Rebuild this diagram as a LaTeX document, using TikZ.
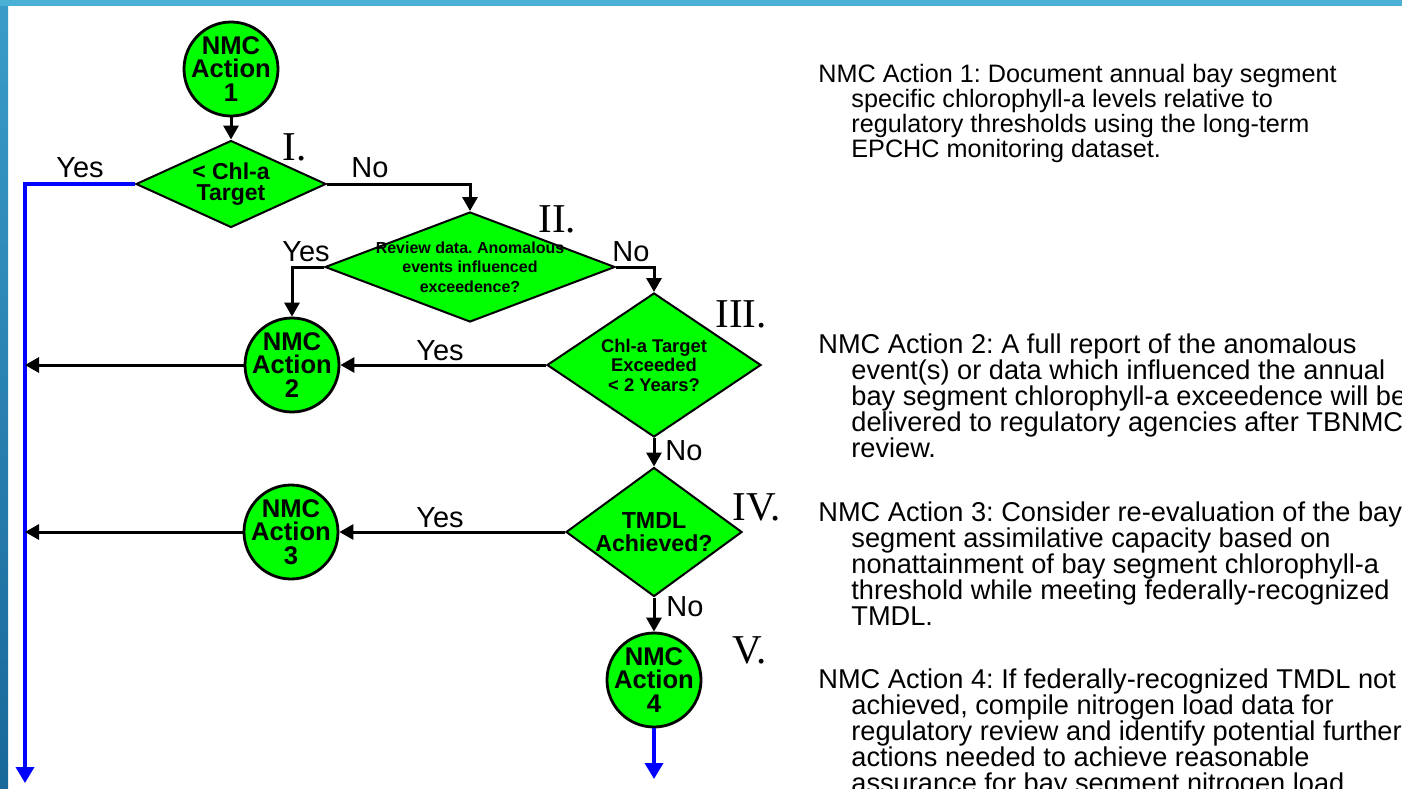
\documentclass[tikz,border=0pt]{standalone}
\usepackage{fontspec}
\setmainfont{Liberation Sans}
\newfontfamily\romfont{Liberation Serif}
\usetikzlibrary{arrows.meta,shapes.geometric}
\definecolor{nmcgreen}{RGB}{0,255,0}
\definecolor{linkblue}{RGB}{0,0,255}
\definecolor{bartop}{RGB}{74,176,214}
\definecolor{sidetop}{RGB}{58,156,200}
\definecolor{sidebot}{RGB}{24,104,154}
\newcommand{\hindline}{\\\hspace*{16.5pt}}
\begin{document}
\frenchspacing
\lineskiplimit=-20pt\relax
\begin{tikzpicture}[x=0.5pt,y=-0.5pt,
  circ/.style={circle,draw=black,line width=1.4pt,fill=nmcgreen,minimum size=47pt,inner sep=0pt},
  dia/.style={diamond,draw=black,line width=1pt,fill=nmcgreen,inner sep=0pt},
  ctext/.style={font=\bfseries\fontsize{12.8}{11.75}\selectfont,align=center,inner sep=0pt},
  lab/.style={font=\fontsize{14.5}{14.5}\selectfont,inner sep=0pt},
  rom/.style={font=\romfont\fontsize{20.5}{20.5}\selectfont,inner sep=0pt,anchor=base west},
  conn/.style={line width=1.5pt,-{Triangle[length=7pt,width=7.5pt]}},
  bconn/.style={draw=linkblue,line width=1.8pt,-{Triangle[length=8pt,width=9pt]}},
  desc/.style={font=\fontsize{12.6}{12.5}\selectfont,align=left,inner sep=0pt,anchor=north west},
  descb/.style={desc,font=\fontsize{13.6}{13}\selectfont}
]
\path[use as bounding box] (0,0) rectangle (1402,788);
\clip (0,0) rectangle (1402,788);
\fill[white] (0,0) rectangle (1402,788);
\shade[top color=sidetop,bottom color=sidebot] (0,0) rectangle (8,788);
\fill[bartop] (0,0) rectangle (1402,6);

% flowchart nodes
\node[circ] (c1) at (231,69) {};
\node[ctext] (c1t) at (c1) {NMC\\Action\\1};
\node[dia,minimum width=95pt,minimum height=43.5pt] (d1) at (231,184) {};
\node[ctext,font=\bfseries\fontsize{11.5}{10.8}\selectfont] (d1t) at (d1) {< Chl-a\\Target};
\node[dia,minimum width=145pt,minimum height=55pt] (d2) at (470,267) {};
\node[ctext,font=\bfseries\fontsize{8}{9.75}\selectfont] (d2t) at (d2) {Review data. Anomalous\\events influenced\\exceedence?};
\node[circ] (c2) at (292,365) {};
\node[ctext] (c2t) at (c2) {NMC\\Action\\2};
\node[dia,minimum width=107pt,minimum height=72pt] (d3) at (654,365) {};
\node[ctext,font=\bfseries\fontsize{9.2}{9.75}\selectfont] (d3t) at (d3) {Chl-a Target\\Exceeded\\< 2 Years?};
\node[dia,minimum width=88pt,minimum height=64.5pt] (d4) at (654,532) {};
\node[ctext,font=\bfseries\fontsize{11.6}{11.5}\selectfont] (d4t) at (d4) {TMDL\\Achieved?};
\node[circ] (c3) at (291,532) {};
\node[ctext] (c3t) at (c3) {NMC\\Action\\3};
\node[circ] (c4) at (654,680) {};
\node[ctext] (c4t) at (c4) {NMC\\Action\\4};

\coordinate (bl) at (25,783);
\coordinate (b4) at (654,779);

% connectors
\draw[bconn] (d1.west) -| (bl);
\draw[bconn] (c4.south) -- (b4);
\draw[conn] (c1.south) -- (d1.north);
\draw[conn] (d1.east) -| (d2.north);
\draw[conn] (d2.west) -| (c2.north);
\draw[conn] (d2.east) -| (d3.north);
\draw[conn] (d3.west) -- (c2.east);
\draw[conn] (c2.west) -- (c2.west -| bl);
\draw[conn] (d3.south) -- (d4.north);
\draw[conn] (d4.west) -- (c3.east);
\draw[conn] (c3.west) -- (c3.west -| bl);
\draw[conn] (d4.south) -- (c4.north);

% labels
\node[lab] (y1) at (80,168) {Yes};
\node[lab] (n1) at (370,168) {No};
\node[lab] (y2) at (306,252) {Yes};
\node[lab] (n2) at (631,252) {No};
\node[lab] (y3) at (440,351) {Yes};
\node[lab] (n3) at (684,451) {No};
\node[lab] (y4) at (440,518) {Yes};
\node[lab] (n4) at (685,607) {No};

\node[rom] (r1) at (282,160) {I.};
\node[rom] (r2) at (538,232) {II.};
\node[rom] (r3) at (715,327) {III.};
\node[rom] (r4) at (732,520) {IV.};
\node[rom] (r5) at (732,663) {V.};

% descriptions
\node[desc] (t1) at (818,64) {NMC Action 1: Document annual bay segment\hindline specific chlorophyll-a levels relative to\hindline regulatory thresholds using the long-term\hindline EPCHC monitoring dataset.};
\node[descb] (t2) at (818,333) {NMC Action 2: A full report of the anomalous\hindline event(s) or data which influenced the annual\hindline bay segment chlorophyll-a exceedence will be\hindline delivered to regulatory agencies after TBNMC\hindline review.};
\node[descb] (t3) at (818,501) {NMC Action 3: Consider re-evaluation of the bay\hindline segment assimilative capacity based on\hindline nonattainment of bay segment chlorophyll-a\hindline threshold while meeting federally-recognized\hindline TMDL.};
\node[descb] (t4) at (818,668) {NMC Action 4: If federally-recognized TMDL not\hindline achieved, compile nitrogen load data for\hindline regulatory review and identify potential further\hindline actions needed to achieve reasonable\hindline assurance for bay segment nitrogen load};
\end{tikzpicture}
\end{document}
